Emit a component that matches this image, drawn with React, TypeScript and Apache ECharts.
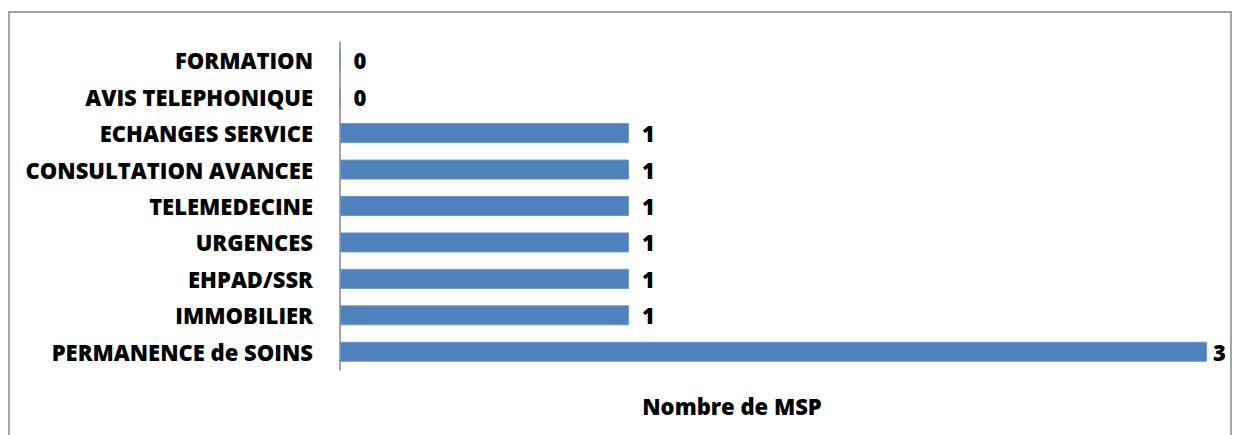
import React, { useEffect, useRef } from "react";
import * as echarts from "echarts";

const categories = [
  "PERMANENCE de SOINS",
  "IMMOBILIER",
  "EHPAD/SSR",
  "URGENCES",
  "TELEMEDECINE",
  "CONSULTATION AVANCEE",
  "ECHANGES SERVICE",
  "AVIS TELEPHONIQUE",
  "FORMATION",
];
const values = [3, 1, 1, 1, 1, 1, 1, 0, 0];
const axisTitle = "Nombre de MSP";

const FONT = "'Open Sans', Lato, sans-serif";
const FS = 22;
const MAX = 3;

export default function App() {
  const ref = useRef<HTMLDivElement>(null);
  useEffect(() => {
    const chart = echarts.init(ref.current!, null, { renderer: "svg" });
    chart.setOption({
      animation: false,
      backgroundColor: "#ffffff",
      grid: { left: 340, right: 31, top: 42, bottom: 65, containLabel: false },
      xAxis: {
        type: "value",
        min: 0,
        max: MAX,
        axisLine: { show: false },
        axisTick: { show: false },
        axisLabel: { show: false },
        splitLine: { show: false },
      },
      yAxis: {
        type: "category",
        data: categories,
        axisLine: { show: true, lineStyle: { color: "#868686", width: 1.5 } },
        axisTick: { show: false },
        axisLabel: {
          color: "#000",
          fontFamily: FONT,
          fontWeight: 800,
          fontSize: FS,
          margin: 27,
        },
      },
      series: [
        {
          type: "bar",
          data: values.map((v) =>
            v === MAX ? { value: v, label: { distance: 6 } } : v
          ),
          barCategoryGap: "45%",
          itemStyle: { color: "#4F81BD", borderColor: "#6E97CA", borderWidth: 1 },
          label: {
            show: true,
            position: "right",
            distance: 13,
            color: "#000",
            fontFamily: FONT,
            fontWeight: 800,
            fontSize: FS,
          },
        },
      ],
      graphic: [
        {
          type: "rect",
          shape: { x: 9, y: 12, width: 1222, height: 440 },
          style: { fill: "none", stroke: "#868686", lineWidth: 1.5 },
          z: -1,
        },
        {
          type: "text",
          x: 732,
          y: 406,
          style: {
            text: axisTitle,
            fill: "#000",
            font: `800 ${FS}px ${FONT}`,
            textAlign: "center",
            textVerticalAlign: "middle",
          },
        },
      ],
    });
    return () => chart.dispose();
  }, []);
  return (
    <div
      ref={ref}
      style={{ position: "fixed", left: 0, top: 0, width: 1238, height: 435 }}
    />
  );
}
